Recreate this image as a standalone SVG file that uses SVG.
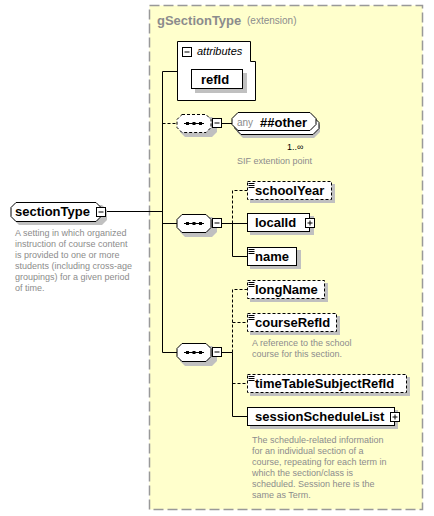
<svg xmlns="http://www.w3.org/2000/svg" width="434" height="516" viewBox="0 0 434 516">
<style>
.bg{fill:#fff}
.t{font-family:"Liberation Sans",Arial,sans-serif;font-size:13px;font-weight:bold;fill:#000}
.d{font-family:"Liberation Sans",Arial,sans-serif;font-size:9px;fill:#8c8c8c}
.box{fill:#fff;stroke:#000;stroke-width:1}
.opt{stroke-dasharray:3,2}
.sh{fill:#c0c0c0}
.ln{stroke:#000;stroke-width:1;fill:none}
.dl{stroke-dasharray:3,2}
.ic{stroke:#000;stroke-width:1}
</style>
<defs>
<g id="elicon"><path d="M1.5,2.5h6M1.5,4.5h6M1.5,6.5h6" class="ic"/></g>
<g id="minus"><rect x="0.5" y="0.5" width="9" height="9" fill="#fff" stroke="#000"/><path d="M2.5,5h5" stroke="#000"/></g>
<g id="plus"><rect x="0.5" y="0.5" width="9" height="9" fill="#fff" stroke="#000"/><path d="M2.5,5h5M5,2.5v5" stroke="#000"/></g>
<g id="seqdots"><path d="M0,0h20" stroke="#000"/><rect x="2" y="-1.5" width="3" height="3" fill="#000"/><rect x="8.5" y="-1.5" width="3" height="3" fill="#000"/><rect x="15" y="-1.5" width="3" height="3" fill="#000"/></g>
</defs>

<g id="gSectionType">
<rect x="149.5" y="5.5" width="273" height="504" fill="#ffffcc" stroke="#999" stroke-width="1.5" stroke-dasharray="10,4"/>
<text x="157" y="25" style="font-family:'Liberation Sans',Arial,sans-serif;font-size:13px;font-weight:bold;fill:#8c8c8c">gSectionType</text>
<text x="247" y="24" style="font-family:'Liberation Sans',Arial,sans-serif;font-size:10px;fill:#8c8c8c">(extension)</text>
</g>

<g id="connectors">
<path class="ln" d="M105,211.5H162.5M162.5,71.5V352.5M162.5,71.5H177M162.5,223.5H177M162.5,352.5H177"/>
<path class="ln dl" d="M162.5,123.5H177"/>
<path class="ln" d="M222,123.5H233"/>
<path class="ln" d="M222,223.5H247M232.5,223.5V256.5H247"/>
<path class="ln dl" d="M232.5,223.5V190.5H247"/>
<path class="ln" d="M222,352.5H232.5V416.5H247"/>
<path class="ln dl" d="M232.5,352.5V289.5H247M232.5,322.5H247M232.5,383.5H247"/>
</g>

<g id="sectionType">
<path class="sh" d="M19,205H102L107,210V220L102,225H19L14,220V210Z"/>
<path class="box" d="M16,202.5H96L101,207.5V216.5L96,221.5H16L11,216.5V207.5Z"/>
<text class="t" x="15" y="216">sectionType</text>
<use href="#minus" x="96" y="207"/>
<text class="d"><tspan x="15" y="236">A setting in which organized</tspan><tspan x="15" y="247">instruction of course content</tspan><tspan x="15" y="258">is provided to one or more</tspan><tspan x="15" y="269">students (including cross-age</tspan><tspan x="15" y="280">groupings) for a given period</tspan><tspan x="15" y="291">of time.</tspan></text>
</g>

<g id="attributes">
<path d="M177.5,41.5H250.5V61.5H255.5V100.5H177.5Z" fill="#fff" stroke="#000"/>
<use href="#minus" x="182" y="47"/>
<text x="197" y="55" style="font-family:'Liberation Sans',Arial,sans-serif;font-size:11px;font-style:italic;fill:#000">attributes</text>
</g>

<g id="refId">
<rect class="sh" x="195" y="73" width="52" height="20"/>
<rect class="box" x="191.5" y="69.5" width="51" height="19"/>
<text class="t" x="201" y="84">refId</text>
</g>

<g id="seq1">
<path class="sh" d="M185,117H212L217,122V132L212,137H185L180,132V122Z"/>
<path class="box opt" d="M182,114.5H206L211,119.5V127.5L206,132.5H182L177,127.5V119.5Z"/>
<use href="#seqdots" x="184" y="123.5"/>
<use href="#minus" x="212" y="118"/>
</g>

<g id="anyOther">
<path class="sh" d="M243,119H314L320,125V132L314,138H243L237,132V125Z"/>
<path class="box" d="M241,116.5H313L319,122.5V128.5L313,134.5H241L235,128.5V122.5Z"/>
<path class="box" d="M238,112.5H310L316,118.5V124.5L310,130.5H238L232,124.5V118.5Z"/>
<text x="237" y="126" style="font-family:'Liberation Sans',Arial,sans-serif;font-size:10px;fill:#8c8c8c">any</text>
<text class="t" x="260" y="127">##other</text>
<text x="287" y="150" style="font-family:'Liberation Sans',Arial,sans-serif;font-size:9px;fill:#000">1..∞</text>
<text class="d" x="237" y="164">SIF extention point</text>
</g>

<g id="seq2">
<path class="sh" d="M185,217H212L217,222V232L212,237H185L180,232V222Z"/>
<path class="box" d="M182,214.5H206L211,219.5V227.5L206,232.5H182L177,227.5V219.5Z"/>
<use href="#seqdots" x="184" y="223.5"/>
<use href="#minus" x="212" y="218"/>
</g>

<g id="schoolYear">
<rect class="sh" x="250" y="184" width="85" height="19"/>
<rect class="box opt" x="247.5" y="181.5" width="84" height="18"/>
<use href="#elicon" x="247" y="181"/>
<text class="t" x="255" y="195">schoolYear</text>
</g>

<g id="localId">
<rect class="sh" x="250" y="216" width="64" height="19"/>
<rect class="box" x="247.5" y="213.5" width="62" height="18"/>
<text class="t" x="255" y="227">localId</text>
<use href="#plus" x="305" y="218"/>
</g>

<g id="name">
<rect class="sh" x="250" y="250" width="51" height="19"/>
<rect class="box" x="247.5" y="247.5" width="49" height="18"/>
<use href="#elicon" x="247" y="247"/>
<text class="t" x="255" y="261">name</text>
</g>

<g id="seq3">
<path class="sh" d="M185,346H212L217,351V361L212,366H185L180,361V351Z"/>
<path class="box" d="M182,343.5H206L211,348.5V356.5L206,361.5H182L177,356.5V348.5Z"/>
<use href="#seqdots" x="184" y="352.5"/>
<use href="#minus" x="212" y="347"/>
</g>

<g id="longName">
<rect class="sh" x="250" y="283" width="78" height="19"/>
<rect class="box opt" x="247.5" y="280.5" width="77" height="18"/>
<use href="#elicon" x="247" y="280"/>
<text class="t" x="255" y="294">longName</text>
</g>

<g id="courseRefId">
<rect class="sh" x="250" y="316" width="90" height="19"/>
<rect class="box opt" x="247.5" y="313.5" width="89" height="18"/>
<use href="#elicon" x="247" y="313"/>
<text class="t" x="255" y="327">courseRefId</text>
<text class="d"><tspan x="252" y="346">A reference to the school</tspan><tspan x="252" y="357">course for this section.</tspan></text>
</g>

<g id="timeTableSubjectRefId">
<rect class="sh" x="250" y="377" width="160" height="19"/>
<rect class="box opt" x="247.5" y="374.5" width="159" height="18"/>
<use href="#elicon" x="247" y="374"/>
<text class="t" x="255" y="388">timeTableSubjectRefId</text>
</g>

<g id="sessionScheduleList">
<rect class="sh" x="250" y="410" width="148" height="19"/>
<rect class="box" x="247.5" y="407.5" width="147" height="18"/>
<text class="t" x="255" y="421">sessionScheduleList</text>
<use href="#plus" x="390" y="412"/>
<text class="d"><tspan x="252" y="443">The schedule-related information</tspan><tspan x="252" y="454">for an individual section of a</tspan><tspan x="252" y="465">course, repeating for each term in</tspan><tspan x="252" y="476">which the section/class is</tspan><tspan x="252" y="487">scheduled. Session here is the</tspan><tspan x="252" y="498">same as Term.</tspan></text>
</g>
</svg>
